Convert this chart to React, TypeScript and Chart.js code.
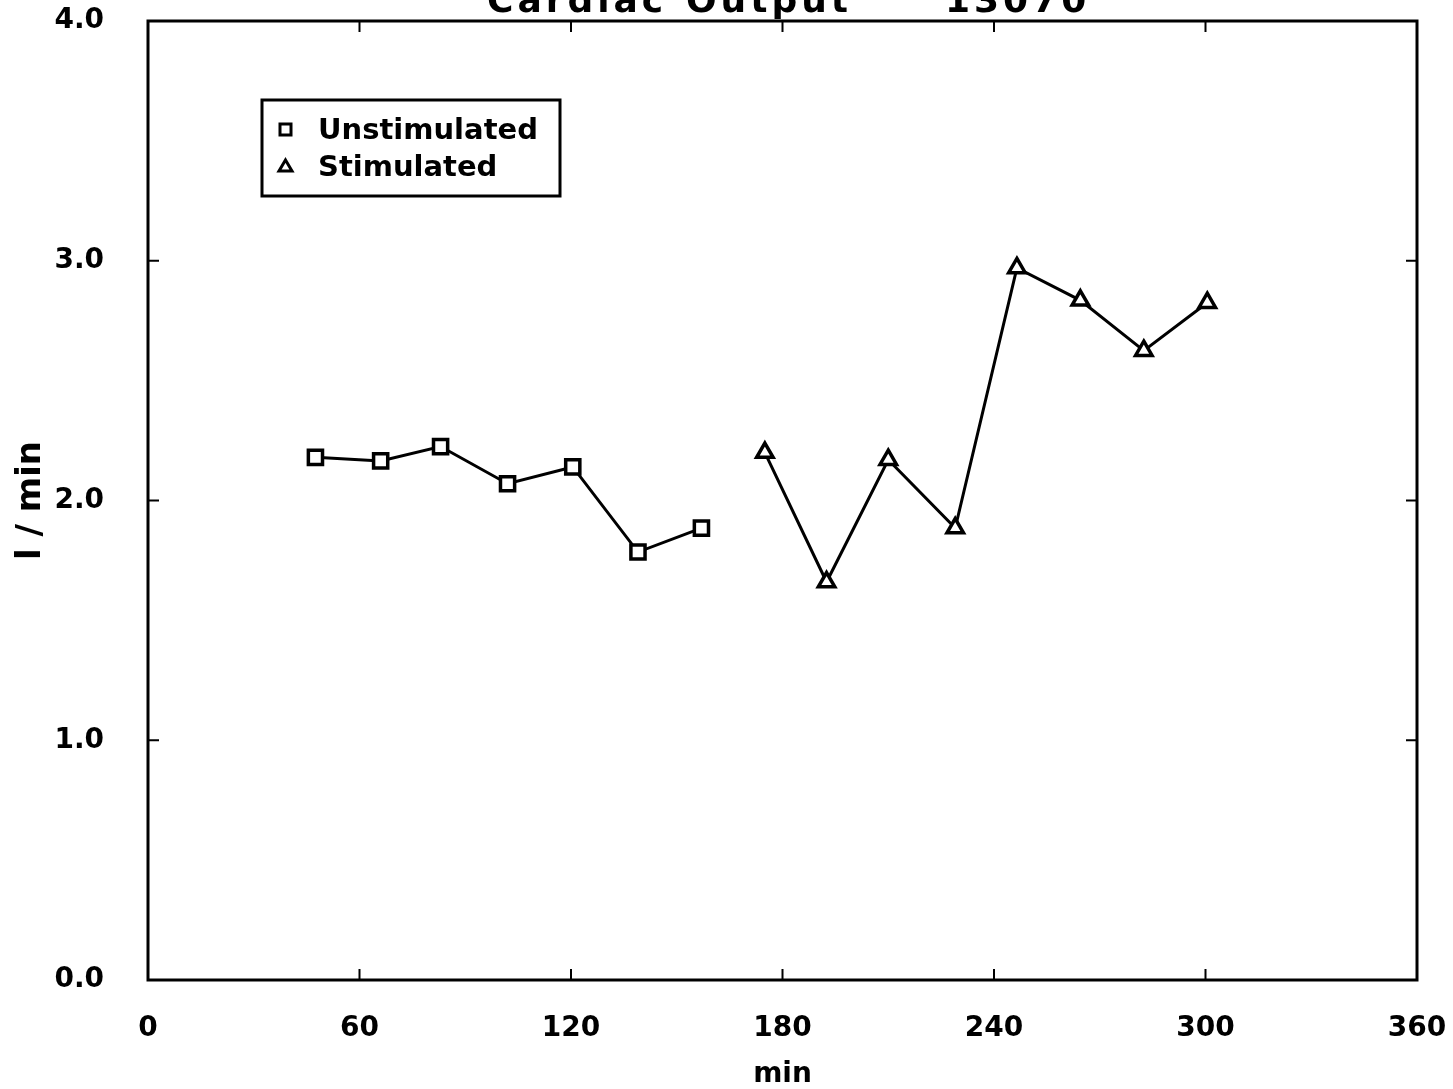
import React, { useEffect, useRef } from "react";
import { Chart, registerables } from "chart.js";

Chart.register(...registerables);

const titleWords = ["Cardiac", "Output", "13070"];
const unstimLabel = "Unstimulated";
const stimLabel = "Stimulated";
const unstimX = [47.5, 66, 83, 102, 120.5, 139, 157];
const unstimY = [2.18, 2.165, 2.225, 2.07, 2.14, 1.785, 1.885];
const stimX = [175, 192.5, 210, 229, 246.5, 264.5, 282.5, 300.5];
const stimY = [2.2, 1.66, 2.17, 1.885, 2.97, 2.835, 2.625, 2.825];
const xTicks = [0, 60, 120, 180, 240, 300, 360];
const yTicks = [0, 1, 2, 3, 4];
const xTitle = "min";
const yTitle = "l / min";

const FONT = "'DejaVu Sans', sans-serif";

const framePlugin = {
  id: "frame",
  afterDraw(chart: any) {
    const { ctx, chartArea } = chart;
    const { left, right, top, bottom } = chartArea;
    const xs = chart.scales.x;
    const ys = chart.scales.y;
    ctx.save();
    ctx.strokeStyle = "#000";
    ctx.lineWidth = 3;
    ctx.strokeRect(left, top, right - left, bottom - top);
    ctx.lineWidth = 2;
    const tl = 11;
    xTicks.slice(1, -1).forEach((v) => {
      const px = xs.getPixelForValue(v);
      ctx.beginPath();
      ctx.moveTo(px, bottom);
      ctx.lineTo(px, bottom - tl);
      ctx.moveTo(px, top);
      ctx.lineTo(px, top + tl);
      ctx.stroke();
    });
    yTicks.slice(1, -1).forEach((v) => {
      const py = ys.getPixelForValue(v);
      ctx.beginPath();
      ctx.moveTo(left, py);
      ctx.lineTo(left + tl, py);
      ctx.moveTo(right, py);
      ctx.lineTo(right - tl, py);
      ctx.stroke();
    });
    // title (cut off at the top as in the reference)
    ctx.fillStyle = "#000";
    ctx.font = `bold 36px ${FONT}`;
    (ctx as any).letterSpacing = "4px";
    ctx.textBaseline = "alphabetic";
    ctx.textAlign = "left";
    ctx.fillText(titleWords[0], 487, 12);
    ctx.fillText(titleWords[1], 686, 12);
    ctx.fillText(titleWords[2], 945, 12);
    (ctx as any).letterSpacing = "0px";
    // legend
    ctx.lineWidth = 3;
    ctx.strokeRect(262, 100, 298, 96);
    ctx.font = `bold 29px ${FONT}`;
    ctx.textBaseline = "middle";
    ctx.lineWidth = 3;
    ctx.strokeRect(280, 124, 11, 11);
    ctx.beginPath();
    ctx.moveTo(285.5, 160);
    ctx.lineTo(292, 171);
    ctx.lineTo(279, 171);
    ctx.closePath();
    ctx.stroke();
    ctx.fillText(unstimLabel, 318, 131);
    ctx.fillText(stimLabel, 318, 168);
    ctx.restore();
  },
};

export default function App() {
  const ref = useRef<HTMLCanvasElement>(null);
  useEffect(() => {
    if (!ref.current) return;
    const chart = new Chart(ref.current, {
      type: "line",
      data: {
        datasets: [
          {
            label: unstimLabel,
            data: unstimX.map((x, i) => ({ x, y: unstimY[i] })),
            borderColor: "#000",
            borderWidth: 3,
            pointStyle: "rect",
            pointRadius: 10,
            pointBorderWidth: 3.5,
            pointBackgroundColor: "#fff",
            pointBorderColor: "#000",
          },
          {
            label: stimLabel,
            data: stimX.map((x, i) => ({ x, y: stimY[i] })),
            borderColor: "#000",
            borderWidth: 3,
            pointStyle: "triangle",
            pointRadius: 9.5,
            pointBorderWidth: 3.5,
            pointBackgroundColor: "#fff",
            pointBorderColor: "#000",
          },
        ],
      },
      options: {
        animation: false,
        responsive: false,
        layout: { padding: { top: 21, right: 36, left: 0, bottom: 0 } },
        plugins: { legend: { display: false }, tooltip: { enabled: false }, title: { display: false } },
        scales: {
          x: {
            type: "linear",
            min: 0,
            max: 360,
            afterBuildTicks: (s: any) => {
              s.ticks = xTicks.map((v) => ({ value: v }));
            },
            afterFit: (s: any) => {
              s.height = 109;
              s.paddingLeft = 0;
              s.paddingRight = 0;
            },
            grid: { display: false },
            border: { display: false },
            ticks: {
              color: "#000",
              font: { family: FONT, size: 28, weight: "bold" },
              padding: 24,
              maxRotation: 0,
              autoSkip: false,
            },
            title: {
              display: true,
              text: xTitle,
              color: "#000",
              font: { family: FONT, size: 28, weight: "bold", lineHeight: 1 },
              padding: { top: 0, bottom: 0 },
            },
          },
          y: {
            type: "linear",
            min: 0,
            max: 4,
            afterBuildTicks: (s: any) => {
              s.ticks = yTicks.map((v) => ({ value: v }));
            },
            afterFit: (s: any) => {
              s.width = 148;
              s.paddingTop = 0;
              s.paddingBottom = 0;
            },
            grid: { display: false },
            border: { display: false },
            ticks: {
              color: "#000",
              font: { family: FONT, size: 28, weight: "bold" },
              padding: 36,
              callback: (v: any) => Number(v).toFixed(1),
            },
            title: {
              display: true,
              text: yTitle,
              color: "#000",
              font: { family: FONT, size: 34, weight: "bold", lineHeight: 1 },
              padding: { top: 14, bottom: 0 },
            },
          },
        },
      },
      plugins: [framePlugin],
    });
    return () => chart.destroy();
  }, []);
  return (
    <div style={{ position: "absolute", left: 0, top: 0, width: 1453, height: 1089, background: "#fff" }}>
      <canvas ref={ref} width={1453} height={1089} />
    </div>
  );
}
